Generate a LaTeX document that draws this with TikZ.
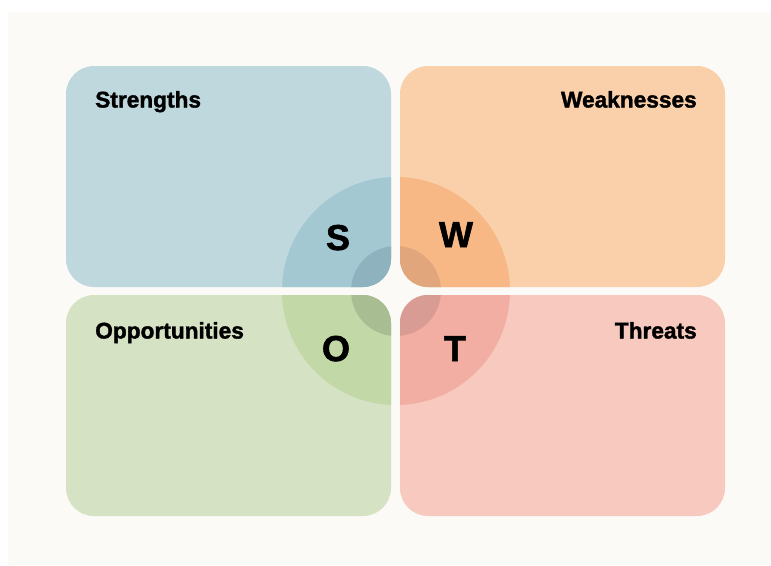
\documentclass[tikz,border=0pt]{standalone}
\usepackage{fontspec}
\setmainfont{Liberation Sans}
\newfontfamily\heavyfont[BoldFont={* Bold}, BoldFeatures={FakeBold=1.6}]{Liberation Sans}
\begin{document}
\begin{tikzpicture}[x=0.75pt,y=-0.75pt]
  % palette: base tint, ring tint, hub tint per quadrant
  \definecolor{paper}{HTML}{FBFAF6}
  \definecolor{sBase}{HTML}{BED8DD}\definecolor{sRing}{HTML}{A3C8D2}\definecolor{sHub}{HTML}{8FB3BE}
  \definecolor{wBase}{HTML}{FAD0AA}\definecolor{wRing}{HTML}{F7B886}\definecolor{wHub}{HTML}{E1A67B}
  \definecolor{oBase}{HTML}{D5E2C3}\definecolor{oRing}{HTML}{C2D8A7}\definecolor{oHub}{HTML}{A9BD93}
  \definecolor{tBase}{HTML}{F8C9BF}\definecolor{tRing}{HTML}{F3AEA3}\definecolor{tHub}{HTML}{D89C94}
  \tikzset{
    quad/.style n args={3}{rectangle, rounded corners=21pt, draw=none, fill=#1,
      minimum width=243.75pt, minimum height=165.75pt, inner sep=0pt,
      path picture={
        \fill[#2] (hub) circle[radius=114];
        \fill[#3] (hub) circle[radius=45];
      }},
    lbl/.style={font=\heavyfont\fontsize{17}{20}\selectfont\bfseries, text=black, inner sep=0pt},
    letter/.style={font=\heavyfont\fontsize{27}{30}\selectfont\bfseries, text=black, inner sep=0pt}
  }
  \useasboundingbox (0,0) rectangle (771,565);
  \fill[white] (0,0) rectangle (771,565);
  \fill[paper] (8,12) rectangle (771,565);
  \coordinate (hub) at (396,291);

  \node[quad={sBase}{sRing}{sHub}] (str) at (228.5,176.5) {};
  \node[quad={wBase}{wRing}{wHub}] (wea) at (562.5,176.5) {};
  \node[quad={oBase}{oRing}{oHub}] (opp) at (228.5,405.5) {};
  \node[quad={tBase}{tRing}{tHub}] (thr) at (562.5,405.5) {};

  \node[lbl, anchor=base west] (strT) at (95,107.5) {Strengths};
  \node[lbl, anchor=base east] (weaT) at (697,107.5) {Weaknesses};
  \node[lbl, anchor=base west] (oppT) at (95,338.5) {Opportunities};
  \node[lbl, anchor=base east] (thrT) at (697,338.5) {Threats};

  \node[letter, anchor=base] (sL) at (338,250) {S};
  \node[letter, anchor=base] (wL) at (456,247) {W};
  \node[letter, anchor=base] (oL) at (336,361) {O};
  \node[letter, anchor=base] (tL) at (455,361) {T};
\end{tikzpicture}
\end{document}
